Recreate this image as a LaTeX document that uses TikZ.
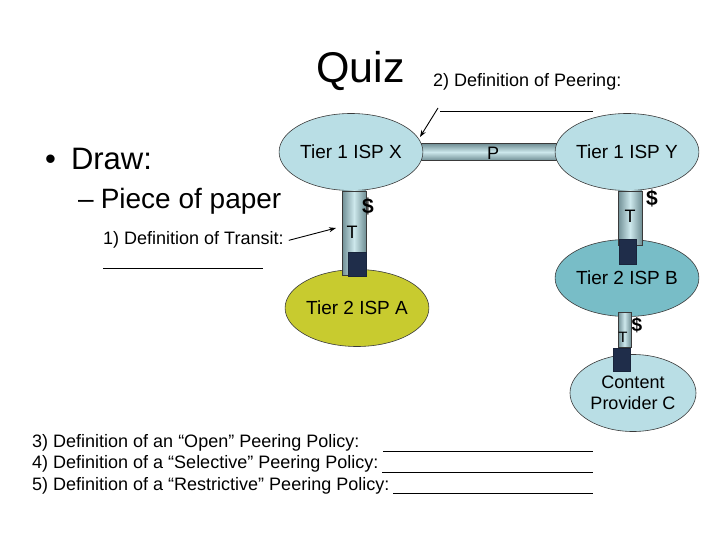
\documentclass[tikz,border=0pt]{standalone}
\usepackage{fontspec}
\setsansfont{Liberation Sans}
\usetikzlibrary{arrows.meta,shapes.geometric,backgrounds}
\definecolor{ink}{HTML}{3A3A3A}
\definecolor{tierone}{HTML}{B9DEE5}
\definecolor{tiertwoa}{HTML}{C8CB2F}
\definecolor{tiertwob}{HTML}{78BDC7}
\definecolor{pipelight}{HTML}{CDE8EC}
\definecolor{pipedark}{HTML}{6F8E94}
\definecolor{plug}{HTML}{1F2D4A}

\begin{document}
\begin{tikzpicture}[x=1pt,y=-1pt,font=\sffamily\fontsize{18}{21}\selectfont,
 txt/.style={anchor=base west,inner sep=0},
 isp/.style={ellipse,draw=ink,line width=.6pt,minimum width=126pt,minimum height=77pt,inner sep=0,
  align=center,font=\sffamily\fontsize{19}{21}\selectfont},
 hpipe/.style={draw=ink,line width=.5pt,top color=pipedark,bottom color=pipedark,middle color=pipelight},
 vpipe/.style={draw=ink,line width=.5pt,left color=pipedark,right color=pipedark,middle color=pipelight},
 plugbox/.style={fill=plug,draw=plug!80!black},
 tag/.style={inner sep=0,font=\sffamily\fontsize{18}{20}\selectfont},
 cash/.style={inner sep=0,font=\sffamily\bfseries\fontsize{21}{23}\selectfont},
 arr/.style={-{Stealth[length=7pt,width=5pt]},line width=.9pt}]
\useasboundingbox (0,0) rectangle (720,540);
\node[txt,font=\sffamily\fontsize{43}{48}\selectfont] (title) at (316,83) {Quiz};
\node[txt] (peering) at (433,87) {2) Definition of Peering:};
\node[txt,font=\sffamily\fontsize{31}{36}\selectfont] (draw) at (45,170) {•\hspace{15pt}Draw:};
\node[txt,font=\sffamily\fontsize{28}{32}\selectfont] (paper) at (78,208) {–\hspace{7pt}Piece of paper};
\node[txt] (transit) at (103,244) {1) Definition of Transit:};
\draw[line width=.8pt] (103,268) -- (263,268);
\draw[line width=.8pt] (440,111) -- (593,111);
% ISPs
\node[isp,fill=tierone] (ispx) at (351,152) {Tier 1 ISP X};
\node[isp,fill=tierone] (ispy) at (627,152) {Tier 1 ISP Y};
\node[isp,fill=tiertwoa] (tiera) at (357,308) {Tier 2 ISP A};
\node[isp,fill=tiertwob] (tierb) at (627,278) {Tier 2 ISP B};
\node[isp,fill=tierone,font=\sffamily\fontsize{18}{20.5}\selectfont] (provc) at (633,393) {Content\\Provider C};
% peering link under both tier 1 ellipses
\begin{pgfonlayer}{background}
\shade[hpipe] ([yshift=8.5pt]ispx.center) rectangle ([yshift=-8.5pt]ispy.center);
\end{pgfonlayer}
\node[tag] (p) at (493,153) {P};
% transit links
\shade[vpipe] ([xshift=-9pt]ispx.south) rectangle ([xshift=9pt,yshift=-6.5pt]tiera.north);
\fill[plugbox] ([xshift=-9pt,yshift=17.5pt]tiera.north) rectangle ([xshift=9pt,yshift=-6.5pt]tiera.north);
\node[tag] (t1) at (352,232) {T};
\node[cash] (c1) at (368,206) {\$};
\shade[vpipe] ([xshift=-9pt]ispy.south) rectangle ([xshift=15pt,yshift=-6.5pt]tierb.north);
\fill[plugbox] ([xshift=-8pt]tierb.north) rectangle ([xshift=9pt,yshift=-24.5pt]tierb.north);
\node[tag] (t2) at (630,216) {T};
\node[cash] (c2) at (652,198) {\$};
\shade[vpipe] ([xshift=-9pt,yshift=4.5pt]tierb.south) rectangle ([xshift=-2pt,yshift=6.5pt]provc.north);
\fill[plugbox] ([xshift=-20pt,yshift=6.5pt]provc.north) rectangle ([xshift=-3pt,yshift=-16.5pt]provc.north);
\node[tag,font=\sffamily\fontsize{15}{17}\selectfont] (t3) at (623,337) {T};
\node[cash,font=\sffamily\bfseries\fontsize{19}{21}\selectfont] (c3) at (637,325) {\$};
% pointers to the links
\coordinate (pa) at (438,108);
\coordinate (pb) at (420,137);
\draw[arr] (pa) -- (pb);
\coordinate (ta) at (336,228);
\draw[arr] ([xshift=5pt,yshift=-1pt]transit.east) -- (ta);
% policies
\node[txt] (open) at (32,447) {3) Definition of an “Open” Peering Policy:};
\node[txt] (selective) at (32,468.5) {4) Definition of a “Selective” Peering Policy:};
\node[txt] (restrictive) at (32,490) {5) Definition of a “Restrictive” Peering Policy:};
\foreach \y/\x in {451/383,472/382,493/393}
 \draw[line width=.8pt] (\x,\y) -- (593,\y);
\end{tikzpicture}
\end{document}
